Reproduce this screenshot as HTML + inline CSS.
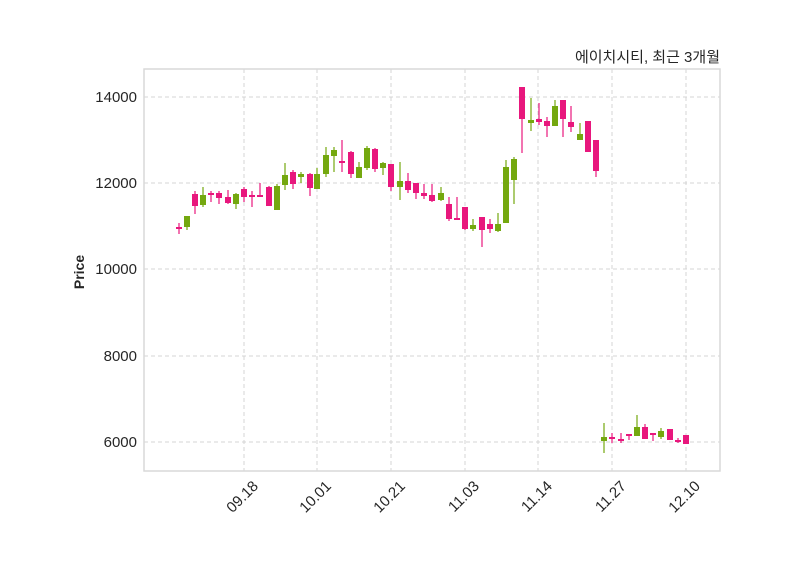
<!DOCTYPE html>
<html><head><meta charset="utf-8"><style>
html,body{margin:0;padding:0;background:#fff;}
svg{display:block;font-family:"Liberation Sans","Noto Sans CJK KR",sans-serif;}
</style></head><body>
<svg id="s" width="800" height="575" xmlns="http://www.w3.org/2000/svg">
<rect x="0" y="0" width="800" height="575" fill="#fff"/>
<g stroke="#d4d4d4" stroke-width="1" stroke-dasharray="4,3">
<line x1="144" x2="720" y1="97" y2="97"/><line x1="144" x2="720" y1="183" y2="183"/>
<line x1="144" x2="720" y1="269" y2="269"/><line x1="144" x2="720" y1="356" y2="356"/>
<line x1="144" x2="720" y1="442" y2="442"/>
<line x1="244" x2="244" y1="69" y2="471"/><line x1="317" x2="317" y1="69" y2="471"/>
<line x1="391" x2="391" y1="69" y2="471"/><line x1="465" x2="465" y1="69" y2="471"/>
<line x1="538" x2="538" y1="69" y2="471"/><line x1="612" x2="612" y1="69" y2="471"/>
<line x1="686" x2="686" y1="69" y2="471"/>
</g>
<rect x="144" y="69" width="576" height="402" fill="none" stroke="#d9d9d9" stroke-width="1.5"/>
<g font-size="15" fill="#262626" text-anchor="end">
<text x="137" y="102">14000</text><text x="137" y="188">12000</text>
<text x="137" y="274">10000</text><text x="137" y="361">8000</text><text x="137" y="447">6000</text>
</g>
<g font-size="15" fill="#262626" text-anchor="end">
<text transform="translate(259,487) rotate(-45)">09.18</text>
<text transform="translate(332,487) rotate(-45)">10.01</text>
<text transform="translate(406,487) rotate(-45)">10.21</text>
<text transform="translate(480,487) rotate(-45)">11.03</text>
<text transform="translate(553,487) rotate(-45)">11.14</text>
<text transform="translate(627,487) rotate(-45)">11.27</text>
<text transform="translate(701,487) rotate(-45)">12.10</text>
</g>
<text transform="translate(84,272) rotate(-90)" font-size="14" font-weight="bold" fill="#262626" text-anchor="middle">Price</text>
<text x="720" y="62" font-size="15" fill="#262626" text-anchor="end">에이치시티, 최근 3개월</text>
<g id="c"></g>
</svg>
<script>
var P="#e8177d",G="#74a80f";
var d=[
[179,223,234,227,229,P],[187,216,230,216,227,G],[195,191,214,194,206,P],[203,187,207,195,205,G],
[211,191,202,193,195,P],[219,191,204,193,198,P],[228,190,204,197,203,P],[236,193,209,194,204,G],
[244,187,202,189,197,P],[252,191,207,195,197,P],[260,183,197,195,197,P],[269,186,206,187,206,P],
[277,184,210,186,210,G],[285,163,190,175,185,G],[293,170,189,172,184,P],[301,172,183,174,177,G],
[310,173,196,174,188,P],[317,168,189,174,189,G],[326,147,177,155,174,G],[334,147,172,150,156,G],
[342,140,172,161,163,P],[351,151,178,152,174,P],[359,162,178,167,178,G],[367,146,170,148,168,G],
[375,148,172,149,169,P],[383,162,175,163,168,G],[391,164,191,164,187,P],[400,162,200,181,187,G],
[408,173,193,181,190,P],[416,183,199,183,193,P],[424,184,199,193,196,P],[432,184,202,195,201,P],
[441,187,201,193,200,G],[449,197,221,204,219,P],[457,197,219,218,220,P],[465,207,230,207,229,P],
[473,219,231,225,229,G],[482,217,247,217,230,P],[490,219,233,224,229,P],[498,213,232,224,231,G],
[506,160,223,167,223,G],[514,157,204,159,180,G],[522,87,153,87,119,P],[531,98,131,120,123,G],
[539,103,125,119,122,P],[547,117,137,121,126,P],[555,100,126,106,126,G],[563,100,137,100,119,P],
[571,106,132,122,127,P],[580,123,140,134,140,G],[588,121,152,121,152,P],[596,140,177,140,171,P],
[604,423,453,437,441,G],[612,433,443,437,439,P],[621,433,443,439,441,P],[629,434,440,434,436,P],
[637,415,436,427,436,G],[645,424,439,427,439,P],[653,433,441,433,435,P],[661,428,439,431,437,G],
[670,429,440,429,440,P],[678,438,443,440,442,P],[686,435,444,435,444,P]];
var s="";
d.forEach(function(c){
s+='<line x1="'+c[0]+'" x2="'+c[0]+'" y1="'+c[1]+'" y2="'+c[2]+'" stroke="'+c[5]+'" stroke-width="1.2"/>';
var h=Math.max(c[4]-c[3],1.5);
s+='<rect x="'+(c[0]-3)+'" y="'+c[3]+'" width="6" height="'+h+'" fill="'+c[5]+'"/>';
});
document.getElementById("c").innerHTML=s;
</script>
</body></html>
